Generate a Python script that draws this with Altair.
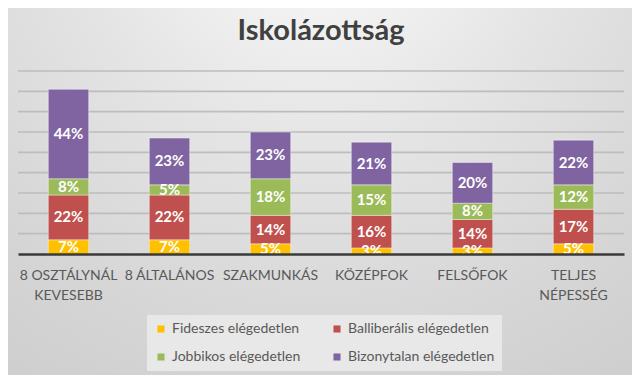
import altair as alt
import pandas as pd

categories = ["8 OSZTÁLYNÁL\nKEVESEBB", "8 ÁLTALÁNOS", "SZAKMUNKÁS", "KÖZÉPFOK", "FELSŐFOK", "TELJES\nNÉPESSÉG"]
series = ["Fideszes elégedetlen", "Balliberális elégedetlen", "Jobbikos elégedetlen", "Bizonytalan elégedetlen"]
colors = ["#FFC000", "#C0504D", "#9BBB59", "#8064A2"]
fidesz = [7, 7, 5, 3, 3, 5]
balliberalis = [22, 22, 14, 16, 14, 17]
jobbik = [8, 5, 18, 15, 8, 12]
bizonytalan = [44, 23, 23, 21, 20, 22]
grid_values = [10, 20, 30, 40, 50, 60, 70, 80, 90]
title_text = "Iskolázottság"

rows = []
for si, (s, vals) in enumerate(zip(series, [fidesz, balliberalis, jobbik, bizonytalan])):
    for c, v in zip(categories, vals):
        rows.append({"cat": c, "series": s, "order": si, "value": v, "label": f"{v}%"})
df = pd.DataFrame(rows)
grid_df = pd.DataFrame({"g": grid_values})
title_df = pd.DataFrame({"t": [title_text]})
one_df = pd.DataFrame({"k": [0]})

FONT = "Lato"
W, H = 606, 183

xenc = alt.X("cat:N", sort=categories, title=None,
             scale=alt.Scale(paddingInner=0.6, paddingOuter=0.3),
             axis=alt.Axis(labelExpr="split(datum.label, '\\n')", labelAngle=0, ticks=False,
                           labelPadding=14, labelFont=FONT, labelFontSize=14, labelColor="#595959",
                           labelLineHeight=20, labelOverlap=False, labelLimit=0,
                           domainColor="#3a3a3a", domainWidth=2.5, grid=False, zindex=1))
yscale = alt.Scale(domain=[0, 90], nice=False)

bg = alt.Chart(one_df).mark_rect(
    color=alt.RadialGradient(
        gradient="radial",
        stops=[alt.GradientStop(color="#ffffff", offset=0),
               alt.GradientStop(color="#f3f3f3", offset=0.15),
               alt.GradientStop(color="#e4e4e4", offset=0.4),
               alt.GradientStop(color="#d6d6d6", offset=0.7),
               alt.GradientStop(color="#cbcbcb", offset=1)],
        x1=0.5, y1=0.04, r1=0, x2=0.5, y2=0.04, r2=1.0)
).encode(x=alt.value(-10), x2=alt.value(614), y=alt.value(-63), y2=alt.value(304))

title = alt.Chart(title_df).mark_text(
    font=FONT, fontSize=29, fontWeight="bold", color="#404040", baseline="alphabetic", align="center"
).encode(x=alt.value(W / 2), y=alt.value(-31), text="t:N")

grid = alt.Chart(grid_df).mark_rule(color="#bdbdbd", strokeWidth=1.6).encode(
    y=alt.Y("g:Q", scale=yscale, axis=None)
)

bars = alt.Chart(df).mark_bar(stroke="#ffffff", strokeWidth=0.8, strokeOpacity=0.5).encode(
    x=xenc,
    y=alt.Y("value:Q", stack="zero", scale=yscale, axis=None),
    color=alt.Color("series:N", sort=series,
                    scale=alt.Scale(domain=series, range=colors),
                    legend=alt.Legend(title=None, orient="none", legendX=129, legendY=244,
                                      direction="horizontal", columns=2, columnPadding=29,
                                      rowPadding=14, symbolType="square", symbolSize=50,
                                      symbolStrokeWidth=0, labelFont=FONT, labelFontSize=14,
                                      labelColor="#595959", labelOffset=4, padding=7,
                                      fillColor="#e8e8e8")),
    order=alt.Order("order:Q"),
)

texts = alt.Chart(df).transform_stack(
    stack="value", groupby=["cat"], sort=[alt.SortField("order")], as_=["y0", "y1"]
).transform_calculate(mid="(datum.y0 + datum.y1) / 2").mark_text(
    font=FONT, fontSize=15, fontWeight="bold", color="white", baseline="middle", clip=True
).encode(
    x=alt.X("cat:N", sort=categories),
    y=alt.Y("mid:Q", scale=yscale),
    text="label:N",
)

chart = alt.layer(bg, title, grid, bars, texts).properties(
    width=W, height=H,
    autosize=alt.AutoSizeParams(type="none"),
    padding={"left": 10, "top": 63, "right": 8, "bottom": 121},
).configure_view(stroke=None).configure(background="#d4d4d4")

chart.save("out.html", embed_options={"renderer": "svg", "actions": False})
